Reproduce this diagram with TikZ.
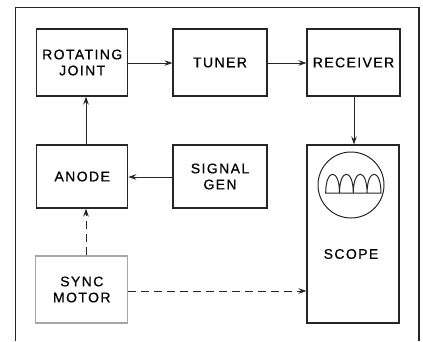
\documentclass[tikz,border=0pt]{standalone}
\usepackage{fontspec}
\setmainfont{Liberation Sans}[LetterSpace=10,FakeBold=0.6]
\usetikzlibrary{arrows.meta}
\begin{document}
\begin{tikzpicture}[x=1pt,y=-1pt,
  blk/.style={draw=black!85,line width=1.1pt,inner sep=0pt,font=\fontsize{14}{16}\selectfont,align=center},
  gblk/.style={blk,draw=black!35},
  conn/.style={line width=1pt,draw=black!85,-{Stealth[length=8pt,width=5.5pt]}},
  dconn/.style={conn,dash pattern=on 8pt off 5pt}]
\useasboundingbox (0,0) rectangle (423,341);
\draw[line width=1.1pt,black!85] (15.7,341) -- (15.7,7.3) -- (419,7.3) -- (419,341);
\node[blk,minimum width=91pt,minimum height=67pt] (rj) at (82.2,62.5) {ROTATING\\JOINT};
\node[blk,minimum width=94pt,minimum height=67pt] (tu) at (220,62.5) {TUNER};
\node[blk,minimum width=93pt,minimum height=67pt] (rc) at (353.5,62.5) {RECEIVER};
\node[blk,minimum width=91pt,minimum height=63pt] (an) at (82.2,176.5) {ANODE};
\node[blk,minimum width=94pt,minimum height=63pt] (sg) at (220,176.5) {SIGNAL\\GEN};
\node[blk,minimum width=92pt,minimum height=178pt] (sc) at (353,234) {};
\node[font=\fontsize{14}{16}\selectfont] (sl) at (351,254) {SCOPE};
\node[gblk,minimum width=92pt,minimum height=67pt] (sm) at (81.8,289.5) {SYNC\\MOTOR};
\node[draw=black!85,line width=1pt,circle,minimum size=66pt,inner sep=0pt] (cr) at (351,185) {};
\draw[line width=1pt,black!85]
  (325.7,193) .. controls (325.7,168) and (339.5,168) .. (339.5,193)
  .. controls (339.5,168) and (353.3,168) .. (353.3,193)
  .. controls (353.3,168) and (367.1,168) .. (367.1,193)
  .. controls (367.1,168) and (381,168) .. (381,193) -- cycle;
\draw[conn] (rj.east|-0,63) -- (tu.west|-0,63);
\draw[conn] (tu.east|-0,63) -- (rc.west|-0,63);
\draw[conn] (rc.south-|354,0) -- (sc.north-|354,0);
\draw[conn] (sg.west|-0,177) -- (an.east|-0,177);
\draw[conn] (an.north-|86,0) -- (rj.south-|86,0);
\draw[dconn] (sm.north-|86,0) -- (an.south-|86,0);
\draw[dconn] (sm.east|-0,291) -- (sc.west|-0,291);
\end{tikzpicture}
\end{document}
